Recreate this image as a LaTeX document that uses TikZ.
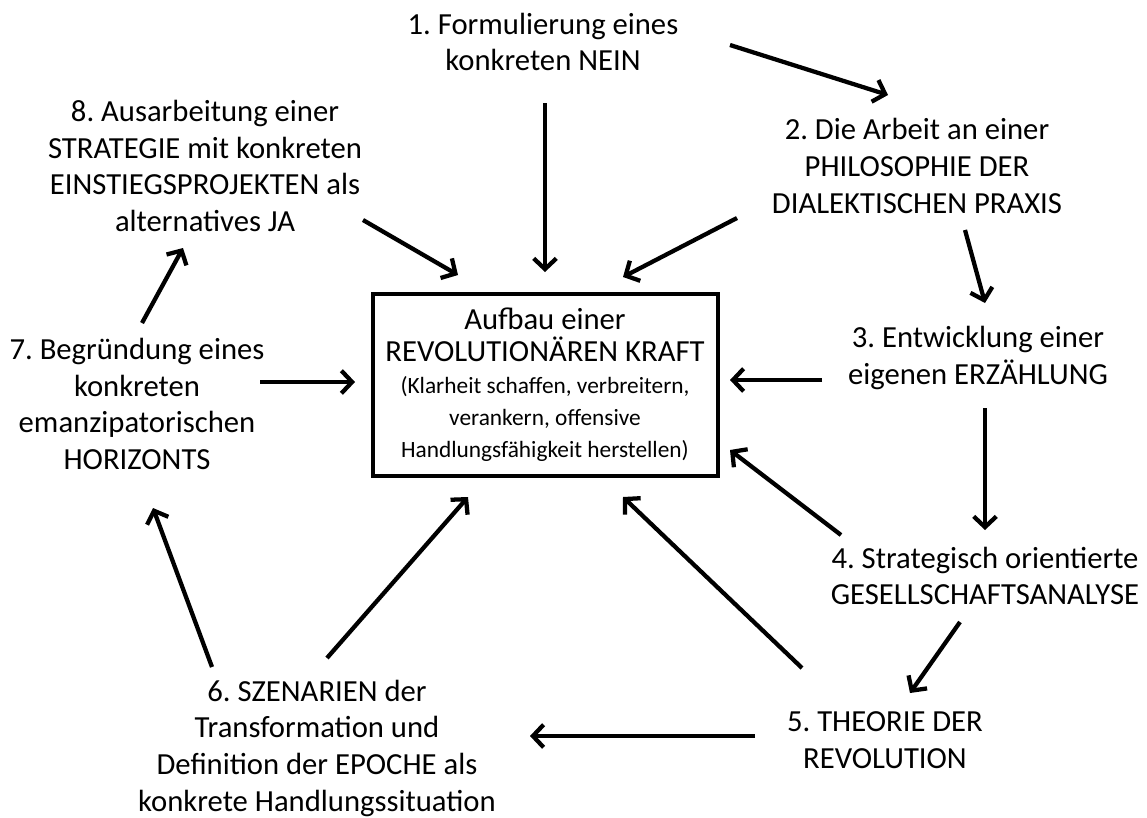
\documentclass[tikz,border=0pt]{standalone}
\usepackage{fontspec}
\setmainfont{Carlito}
\frenchspacing
\usetikzlibrary{arrows.meta}
\tikzset{
  ar/.style={-{Straight Barb[length=8pt,width=17pt]},line width=3.2pt,black},
  lbl/.style={align=center,font=\fontsize{23}{27.5}\selectfont,inner sep=0pt},
  core/.style={draw,line width=3pt,align=center,font=\fontsize{17.5}{24}\selectfont,
    minimum width=258.75pt,minimum height=136.5pt,inner sep=0pt}
}
\begin{document}
\begin{tikzpicture}[x=0.75pt,y=-0.75pt]
\useasboundingbox (0,0) rectangle (1147,818);
% centre
\node[core] (kraft) at (545,385) {{\fontsize{23}{24}\selectfont Aufbau einer}\\
  {\fontsize{23}{24}\selectfont REVOLUTIONÄREN KRAFT}\\
  (Klarheit schaffen, verbreitern,\\
  verankern, offensive\\
  Handlungsfähigkeit herstellen)};
% the eight steps
\node[lbl] (s1) at (543,42)  {1. Formulierung eines\\konkreten NEIN};
\node[lbl] (s2) at (917,166) {2. Die Arbeit an einer\\PHILOSOPHIE DER\\DIALEKTISCHEN PRAXIS};
\node[lbl] (s3) at (978,358) {3. Entwicklung einer\\eigenen ERZÄHLUNG};
\node[lbl] (s4) at (985,576) {4. Strategisch orientierte\\GESELLSCHAFTSANALYSE};
\node[lbl] (s5) at (885,740) {5. THEORIE DER\\REVOLUTION};
\node[lbl] (s6) at (317,748) {6. SZENARIEN der\\Transformation und\\Definition der EPOCHE als\\konkrete Handlungssituation};
\node[lbl] (s7) at (137,404) {7. Begründung eines\\konkreten\\emanzipatorischen\\HORIZONTS};
\node[lbl] (s8) at (205,166) {8. Ausarbeitung einer\\STRATEGIE mit konkreten\\EINSTIEGSPROJEKTEN als\\alternatives JA};
% cycle
\draw[ar] ([shift={(187,3)}]s1.center) -- ([shift={(-29,-71)}]s2.center);
\draw[ar] ([shift={(48,64)}]s2.center) -- ([shift={(7,-55)}]s3.center);
\draw[ar] ([shift={(7,50)}]s3.center) -- ([shift={(0,-46)}]s4.center);
\draw[ar] ([shift={(-25,46)}]s4.center) -- ([shift={(25,-47)}]s5.center);
\draw[ar] ([shift={(-130,-4)}]s5.center) -- ([shift={(213,-12)}]s6.center);
\draw[ar] ([shift={(-105,-81)}]s6.center) -- ([shift={(16,104)}]s7.center);
\draw[ar] ([shift={(5,-81)}]s7.center) -- ([shift={(-22,82)}]s8.center);
% into the centre
\draw[ar] ([shift={(2,61)}]s1.center) -- ([shift={(0,-113)}]kraft.center);
\draw[ar] ([shift={(-180,52)}]s2.center) -- ([shift={(78,-108)}]kraft.center);
\draw[ar] ([shift={(-156,22)}]s3.center) -- ([shift={(185,-5)}]kraft.center);
\draw[ar] ([shift={(-144,-41)}]s4.center) -- ([shift={(185,65)}]kraft.center);
\draw[ar] ([shift={(-83,-72)}]s5.center) -- ([shift={(78,112)}]kraft.center);
\draw[ar] ([shift={(10,-90)}]s6.center) -- ([shift={(-77,112)}]kraft.center);
\draw[ar] ([shift={(123,-22)}]s7.center) -- ([shift={(-190,-3)}]kraft.center);
\draw[ar] ([shift={(158,54)}]s8.center) -- ([shift={(-87,-110)}]kraft.center);
\end{tikzpicture}
\end{document}
